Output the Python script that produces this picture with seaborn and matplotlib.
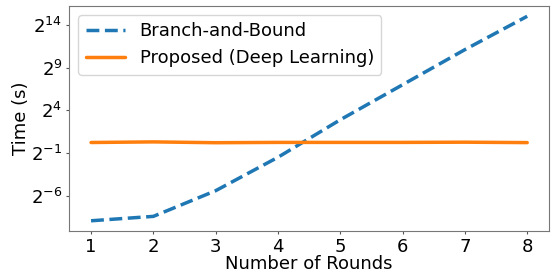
import matplotlib
matplotlib.use("Agg")
import matplotlib.pyplot as plt
import seaborn as sns
import pandas as pd

# data (times in seconds)
rounds = [1, 2, 3, 4, 5, 6, 7, 8]
bnb_time = [0.0021, 0.003, 0.024, 0.36, 7.5, 128, 2200, 32768]
proposed_time = [1.19, 1.25, 1.17, 1.2, 1.2, 1.2, 1.22, 1.18]
ytick_exponents = [-6, -1, 4, 9, 14]

df = pd.DataFrame({
    "Number of Rounds": rounds * 2,
    "Time (s)": bnb_time + proposed_time,
    "Method": ["Branch-and-Bound"] * len(rounds) + ["Proposed (Deep Learning)"] * len(rounds),
})

sns.set_style("ticks")
plt.rcParams["font.family"] = ["DejaVu Sans"]
plt.rcParams["text.color"] = "black"
plt.rcParams["axes.labelcolor"] = "black"
plt.rcParams["xtick.color"] = "#555555"
plt.rcParams["ytick.color"] = "#555555"
plt.rcParams["xtick.labelcolor"] = "black"
plt.rcParams["ytick.labelcolor"] = "black"

fig, ax = plt.subplots(figsize=(5.54, 2.75), dpi=100)
sns.lineplot(data=df, x="Number of Rounds", y="Time (s)", hue="Method", style="Method",
             dashes={"Branch-and-Bound": (3.7, 1.6), "Proposed (Deep Learning)": ""},
             palette=["#1f77b4", "#ff7f0e"], linewidth=2.5, ax=ax)

ax.set_yscale("log", base=2)
ax.set_yticks([2.0 ** e for e in ytick_exponents])
ax.minorticks_off()
ax.set_xticks(rounds)
ax.tick_params(labelsize=13, length=2.5, width=0.8, pad=2.5)
ax.set_xlabel("Number of Rounds", fontsize=13, labelpad=-0.5)
ax.set_ylabel("Time (s)", fontsize=13, labelpad=1)
for s in ax.spines.values():
    s.set_color("#777777")
    s.set_visible(True)

ax.legend(title=None, fontsize=13, loc="upper left", handlelength=2.2)

fig.subplots_adjust(left=0.125, right=0.991, top=0.978, bottom=0.16)
fig.savefig("out.png", dpi=100)
